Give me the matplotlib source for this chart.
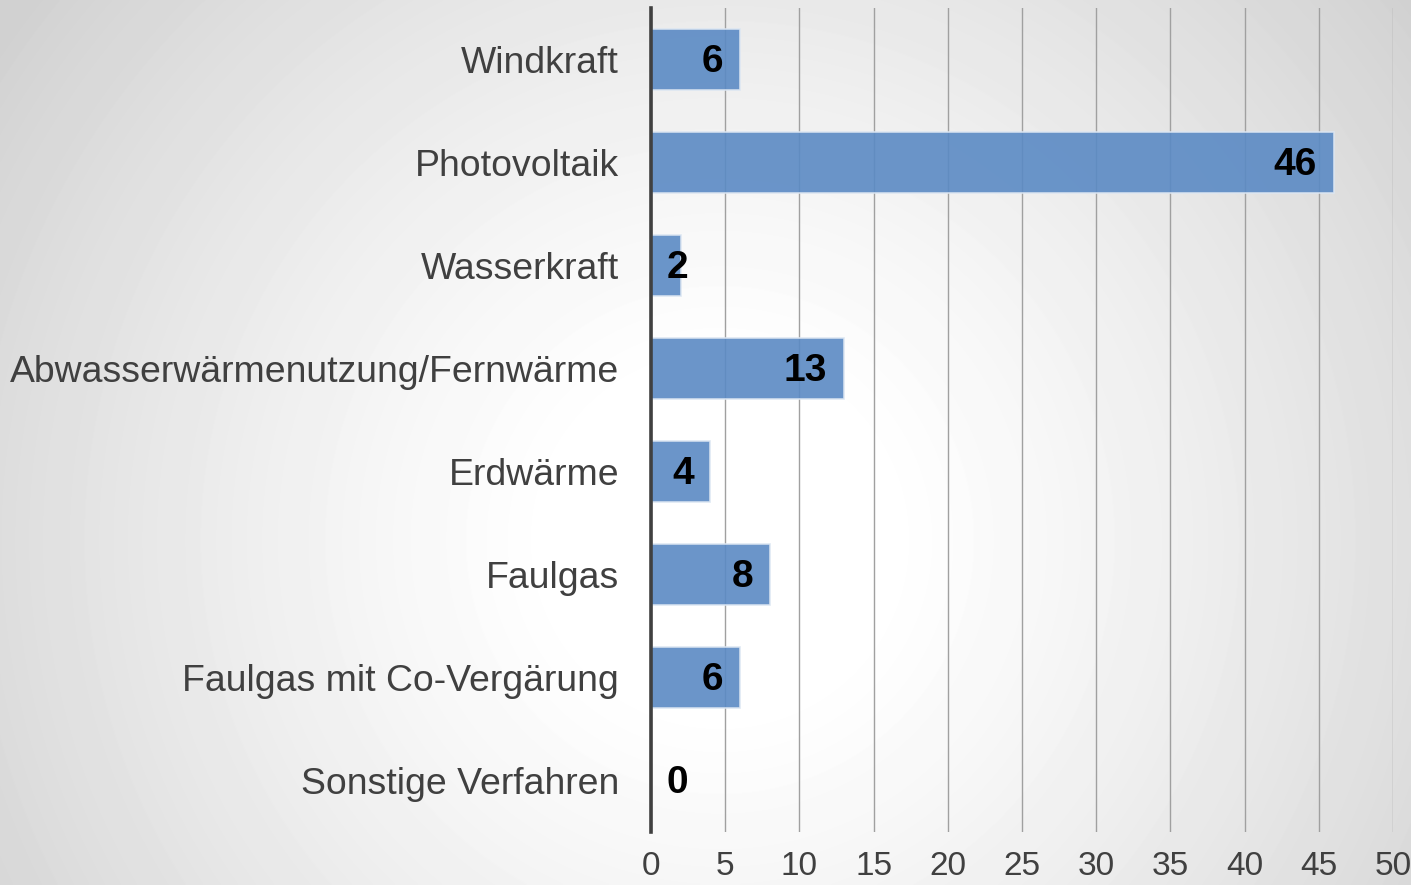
import matplotlib.pyplot as plt
import numpy as np

categories = ['Windkraft', 'Photovoltaik', 'Wasserkraft', 'Abwasserwärmenutzung/Fernwärme',
              'Erdwärme', 'Faulgas', 'Faulgas mit Co-Vergärung', 'Sonstige Verfahren']
values = [6, 46, 2, 13, 4, 8, 6, 0]
ticks = [0, 5, 10, 15, 20, 25, 30, 35, 40, 45, 50]

plt.rcParams['font.family'] = ['Liberation Sans', 'DejaVu Sans']

W, H = 1411, 885
fig = plt.figure(figsize=(W / 100, H / 100), dpi=100)

# radial gradient background, white in the middle and grey at the edges
bg = fig.add_axes([0, 0, 1, 1], zorder=-10)
yy, xx = np.mgrid[0:H, 0:W]
r = np.sqrt((xx - 720) ** 2 + (yy - 540) ** 2) / 800.0
shade = 1.0 - 0.18 * np.clip((r - 0.2) / 0.9, 0, 1) ** 1.2
bg.imshow(shade, cmap='gray', vmin=0, vmax=1, aspect='auto', interpolation='bilinear')
bg.axis('off')

ax = fig.add_axes([651 / W, 1 - 832 / H, (1393 - 651) / W, (832 - 8) / H])
ax.patch.set_alpha(0)

y = np.arange(len(categories))
ax.barh(y, values, height=0.59, color='#5b8ac4', alpha=0.9, edgecolor='#dce6f2', linewidth=1.2, zorder=3)

for yi, v in zip(y, values):
    if v >= 3:
        ax.annotate(str(v), (v, yi), xytext=(-12, -2), textcoords='offset points',
                    ha='right', va='center', fontsize=28, fontweight='bold', color='black', zorder=4)
    else:
        ax.annotate(str(v), (0, yi), xytext=(11, -2), textcoords='offset points',
                    ha='left', va='center', fontsize=28, fontweight='bold', color='black', zorder=4)

ax.set_xlim(0, 50)
ax.set_ylim(len(categories) - 0.5, -0.5)
ax.set_yticks(y)
ax.set_yticklabels(categories, fontsize=26.9, color='#404040')
ax.set_xticks(ticks)
ax.set_xticklabels([str(t) for t in ticks], fontsize=24, color='#404040')
ax.tick_params(axis='both', length=0)
ax.tick_params(axis='y', pad=23)
ax.tick_params(axis='x', pad=14)

ax.grid(axis='x', color='#a0a0a0', linewidth=1.0, zorder=0)
ax.set_axisbelow(True)
for s in ['top', 'right', 'bottom']:
    ax.spines[s].set_visible(False)
ax.spines['left'].set_color('#404040')
ax.spines['left'].set_linewidth(2.6)
ax.spines['left'].set_zorder(5)

fig.savefig('out.png', dpi=100)
